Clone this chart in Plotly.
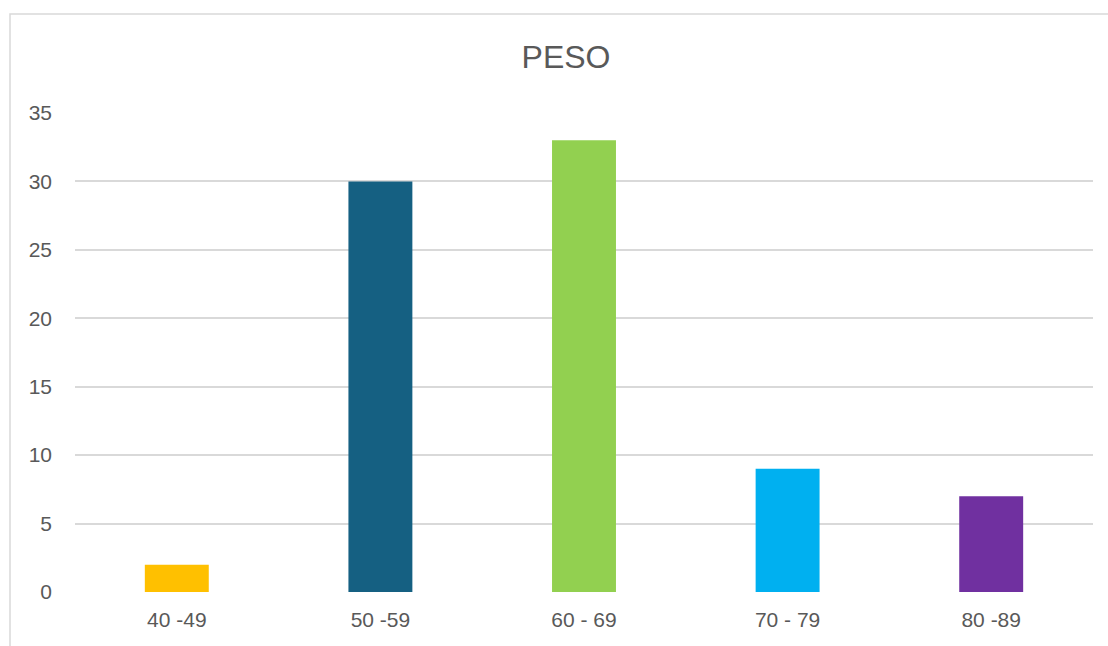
import plotly.graph_objects as go

categories = ["40 -49", "50 -59", "60 - 69", "70 - 79", "80 -89"]
values = [2, 30, 33, 9, 7]
colors = ["#FFC000", "#156082", "#92D050", "#00B0F0", "#7030A0"]
y_ticks = [0, 5, 10, 15, 20, 25, 30, 35]

fig = go.Figure()
fig.add_trace(go.Bar(x=categories, y=values, marker=dict(color=colors, line=dict(width=0)),
                     hoverinfo="x+y"))

W, H = 1108, 646
l, r, t, b = 75, 15, 113, 54
pw, ph = W - l - r, H - t - b

fig.update_layout(
    width=W, height=H,
    margin=dict(l=l, r=r, t=t, b=b),
    paper_bgcolor="white", plot_bgcolor="white",
    font=dict(family="Liberation Sans, Arial, sans-serif", color="#595959", size=21),
    title=dict(text="PESO", x=(566 - l) / pw, xref="paper", xanchor="center",
               y=1 - 57 / H, yref="container", yanchor="middle",
               font=dict(size=32, color="#595959")),
    bargap=0.686,
    showlegend=False,
    xaxis=dict(showgrid=False, showline=False, zeroline=False, ticks="",
               tickfont=dict(size=21, color="#595959"), ticklabelstandoff=13),
    yaxis=dict(range=[0, 35], tickvals=y_ticks, showgrid=True, gridcolor="#D9D9D9",
               gridwidth=1.5, zeroline=False, showline=False, ticks="",
               tickfont=dict(size=21, color="#595959"), ticklabelstandoff=22),
    shapes=[dict(type="rect", xref="paper", yref="paper",
                 x0=(10 - l) / pw, x1=1.2, y0=-0.3, y1=(H - b - 14) / ph,
                 line=dict(color="#D9D9D9", width=1.5), fillcolor="rgba(0,0,0,0)",
                 layer="below")],
)

fig.write_html("out.html")
